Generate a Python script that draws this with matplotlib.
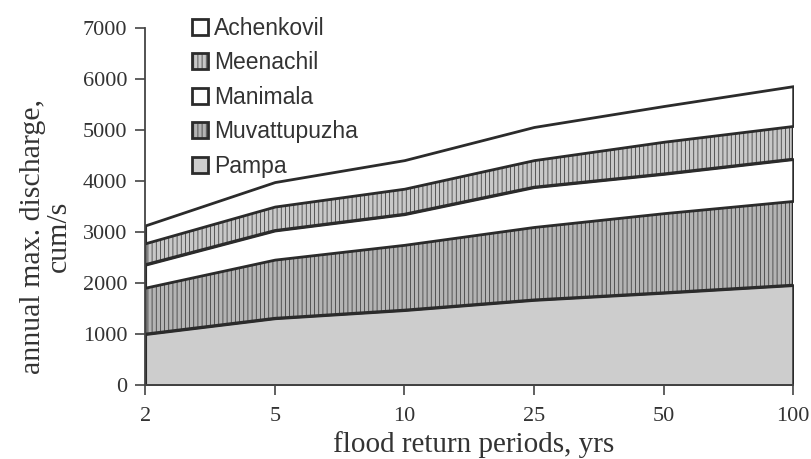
import numpy as np
import matplotlib.pyplot as plt

periods = ["2", "5", "10", "25", "50", "100"]
pampa = [1000, 1310, 1470, 1670, 1810, 1960]
muvattupuzha = [910, 1150, 1280, 1430, 1560, 1650]
manimala = [450, 570, 600, 780, 770, 820]
meenachil = [420, 470, 500, 530, 630, 650]
achenkovil = [350, 480, 560, 650, 700, 780]

names = ["Pampa", "Muvattupuzha", "Manimala", "Meenachil", "Achenkovil"]
fills = ["#cdcdcd", "#b4b4b4", "white", "#c8c8c8", "white"]
hatches = [None, "||||", None, "||||", None]

plt.rcParams['hatch.color'] = '#959595'
plt.rcParams['hatch.linewidth'] = 0.5

fig = plt.figure(figsize=(8.11, 4.59), dpi=100)
ax = fig.add_axes([0.179, 0.161, 0.799, 0.778])

x = np.arange(len(periods))
polys = ax.stackplot(x, pampa, muvattupuzha, manimala, meenachil, achenkovil,
                     colors=fills, edgecolor='#2b2b2b', linewidth=2.0, labels=names)
for p, h in zip(polys, hatches):
    if h:
        p.set_hatch(h)

ax.set_xlim(0, len(periods) - 1)
ax.set_ylim(0, 7000)
ax.set_xticks(x)
ax.set_xticklabels(periods)
ax.set_yticks(range(0, 7001, 1000))

for s in ['top', 'right']:
    ax.spines[s].set_visible(False)
for s in ['left', 'bottom']:
    ax.spines[s].set_color('#444444')
    ax.spines[s].set_linewidth(1.3)

ax.tick_params(axis='both', direction='out', length=7, width=1.2, color='#444444',
               labelsize=16, labelcolor='#333333')
ax.tick_params(axis='y', pad=6)
ax.tick_params(axis='x', pad=9)
for lab in ax.get_xticklabels() + ax.get_yticklabels():
    lab.set_family('Liberation Serif')

ax.set_xlabel("flood return periods, yrs", family='Liberation Serif', fontsize=21,
              color='#333333')
ax.xaxis.set_label_coords(0.507, -0.13)
ax.set_ylabel("annual max. discharge,\ncum/s", family='Liberation Serif', fontsize=21.5,
              color='#333333', linespacing=1.0)
ax.yaxis.set_label_coords(-0.113, 0.417)

handles, labels = ax.get_legend_handles_labels()
leg = ax.legend(handles[::-1], labels[::-1], loc='upper left', bbox_to_anchor=(0.055, 1.063),
                frameon=False, prop={'family': 'Liberation Sans', 'size': 16.5},
                borderpad=0, handlelength=0.7, handleheight=0.7, handletextpad=0.25,
                labelspacing=0.5)
for t in leg.get_texts():
    t.set_color('#333333')

fig.savefig("out.png", dpi=100)
